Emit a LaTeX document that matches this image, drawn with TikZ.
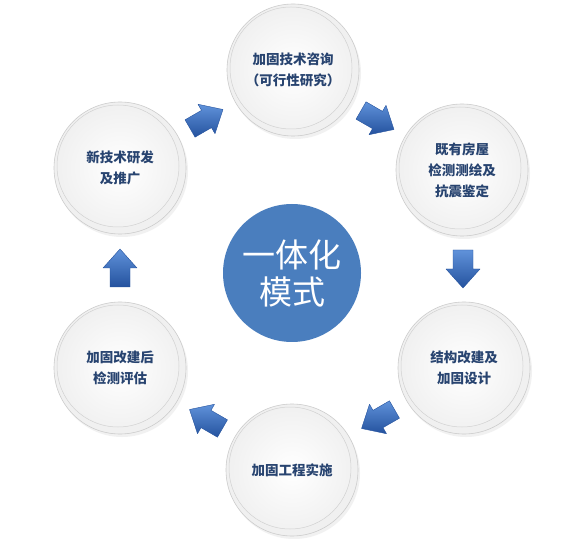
\documentclass[tikz,border=0pt]{standalone}
\usepackage{fontspec}
\newfontfamily\cjk{Noto Sans CJK SC}
\usetikzlibrary{calc,shadows}

\definecolor{hubblue}{RGB}{74,126,190}
\definecolor{arrowdark}{RGB}{36,82,158}
\definecolor{arrowlight}{RGB}{96,146,218}
\definecolor{labelblue}{RGB}{40,68,112}

\newcommand{\cycleArrow}[3]{%
  \begin{scope}[shift={($(#1)!0.5!(#2)$)},rotate=#3]
    \shade[top color=arrowlight,bottom color=arrowdark,draw=arrowdark,line width=0.4pt,line join=round]
      (-19,-10) -- (0,-10) -- (0,-17) -- (19,0) -- (0,17) -- (0,10) -- (-19,10) -- cycle;
  \end{scope}}

\begin{document}
\begin{tikzpicture}[x=1pt,y=1pt,
  ball/.style={circle,minimum size=132pt,inner sep=0pt,align=center,text=labelblue,
    font=\cjk\bfseries\fontsize{13.5}{21}\selectfont,
    fill=gray!12,draw=gray!40,line width=0.6pt,
    drop shadow={shadow xshift=2pt,shadow yshift=-3pt,fill=gray!30,opacity=0.35},
    path picture={\shade[inner color=white,outer color=gray!12,draw=gray!35,line width=0.5pt]
      ([shift={(-2pt,2pt)}]path picture bounding box.center) circle (61pt);}},
  hub/.style={circle,minimum size=138pt,inner sep=0pt,fill=hubblue,text=white,align=center,
    font=\cjk\fontsize{33}{37}\selectfont}]
  \useasboundingbox (0,0) rectangle (580,538);
  \fill[white] (0,0) rectangle (580,538);

  \node[hub] (hub) at (292,265) {一体化\\模式};

  \node[ball] (consult) at (293,468) {加固技术咨询\\（可行性研究）};
  \node[ball] (survey) at (462,368) {既有房屋\\检测测绘及\\抗震鉴定};
  \node[ball] (design) at (464,170) {结构改建及\\加固设计};
  \node[ball] (build) at (292,68) {加固工程实施};
  \node[ball] (assess) at (120,170) {加固改建后\\检测评估};
  \node[ball] (develop) at (120,370) {新技术研发\\及推广};

  \cycleArrow{develop}{consult}{30}
  \cycleArrow{consult}{survey}{-30}
  \cycleArrow{survey}{design}{-90}
  \cycleArrow{design}{build}{-150}
  \cycleArrow{build}{assess}{150}
  \cycleArrow{assess}{develop}{90}
\end{tikzpicture}
\end{document}
